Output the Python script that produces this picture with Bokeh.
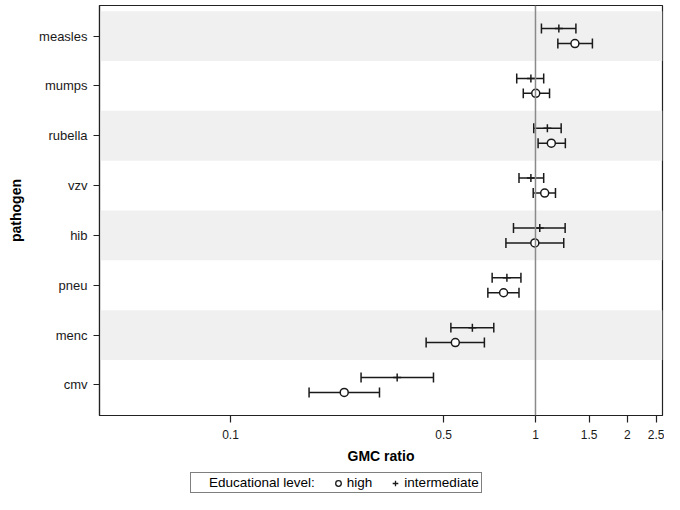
from bokeh.plotting import figure
from bokeh.layouts import column
from bokeh.models import (ColumnDataSource, FixedTicker, Span, Legend, LegendItem, Range1d)
from bokeh.embed import file_html
from bokeh.resources import INLINE

# ---- data ----
pathogens = ["measles", "mumps", "rubella", "vzv", "hib", "pneu", "menc", "cmv"]
high_est = [1.347, 1.002, 1.127, 1.072, 0.995, 0.786, 0.546, 0.236]
high_lo = [1.184, 0.912, 1.020, 0.983, 0.800, 0.698, 0.438, 0.181]
high_hi = [1.537, 1.112, 1.253, 1.163, 1.238, 0.883, 0.680, 0.308]
int_est = [1.193, 0.966, 1.094, 0.966, 1.033, 0.806, 0.621, 0.352]
int_lo = [1.046, 0.868, 0.987, 0.883, 0.847, 0.721, 0.528, 0.268]
int_hi = [1.357, 1.064, 1.214, 1.064, 1.251, 0.896, 0.730, 0.463]
x_ticks = [0.1, 0.5, 1, 1.5, 2, 2.5]
x_tick_labels = ["0.1", "0.5", "1", "1.5", "2", "2.5"]
legend_title = "Educational level:"
group_labels = ["high", "intermediate"]

FONT = "Liberation Sans"
INK = "#1a1a1a"
n = len(pathogens)
pos = [n - i for i in range(n)]
off = 0.15
cap = 0.1

x_lo, x_hi = 0.0372, 2.609

p = figure(width=664, height=468, x_axis_type="log",
           x_range=Range1d(x_lo, x_hi), y_range=Range1d(0.387, n + 0.613),
           output_backend="svg", toolbar_location=None,
           min_border_left=99, min_border_right=2, min_border_top=5, min_border_bottom=53)
p.xgrid.visible = False
p.ygrid.visible = False
p.outline_line_color = "#222222"
p.outline_line_width = 1.2
p.background_fill_color = "white"

# alternating bands
band_y = [pos[i] for i in range(0, n, 2)]
p.hbar(y=band_y, height=1, left=x_lo, right=x_hi, fill_color="#f0f0f0",
       line_color=None, level="underlay")

def draw_series(est, lo, hi, dy):
    ys = [y + dy for y in pos]
    src = ColumnDataSource(dict(est=est, lo=lo, hi=hi, y=ys,
                                y0=[y - cap for y in ys], y1=[y + cap for y in ys]))
    p.segment(x0="lo", y0="y", x1="hi", y1="y", source=src, line_color=INK, line_width=1.5)
    p.segment(x0="lo", y0="y0", x1="lo", y1="y1", source=src, line_color=INK, line_width=1.5)
    p.segment(x0="hi", y0="y0", x1="hi", y1="y1", source=src, line_color=INK, line_width=1.5)
    return src

src_int = draw_series(int_est, int_lo, int_hi, off)
src_high = draw_series(high_est, high_lo, high_hi, -off)
p.scatter(x="est", y="y", source=src_int, marker="cross", size=8,
          line_color=INK, line_width=1.5)
p.scatter(x="est", y="y", source=src_high, marker="circle", size=8,
          line_color=INK, line_width=1.5, fill_color="white")

p.add_layout(Span(location=1, dimension="height", line_color="#8a8a8a", line_width=1.5))

# axes
xa = p.xaxis[0]
xa.ticker = FixedTicker(ticks=x_ticks, minor_ticks=[])
xa.major_label_overrides = {t: l for t, l in zip(x_ticks, x_tick_labels)}
xa.axis_label = "GMC ratio"
ya = p.yaxis[0]
ya.ticker = FixedTicker(ticks=pos, minor_ticks=[])
ya.major_label_overrides = {y: name for y, name in zip(pos, pathogens)}
ya.axis_label = "pathogen"
for ax in (xa, ya):
    ax.axis_line_color = "#222222"
    ax.axis_line_width = 1.2
    ax.major_tick_line_color = "#222222"
    ax.major_tick_line_width = 1.2
    ax.major_tick_in = 0
    ax.major_tick_out = 7
    ax.minor_tick_line_color = None
    ax.major_label_text_font = FONT
    ax.major_label_text_color = INK
    ax.axis_label_text_font = FONT
    ax.axis_label_text_font_style = "bold"
    ax.axis_label_text_font_size = "14px"
    ax.axis_label_text_color = "#000000"
xa.major_label_text_font_size = "12px"
ya.major_label_text_font_size = "13px"
xa.major_label_standoff = 7
xa.axis_label_standoff = 6
ya.major_tick_out = 6
ya.major_label_standoff = 6
ya.axis_label_standoff = 12

# legend strip (separate small figure below the plot)
lg = figure(width=664, height=26, output_backend="svg", toolbar_location=None,
            x_axis_location=None, y_axis_location=None,
            x_range=Range1d(0, 1), y_range=Range1d(0, 1),
            min_border=0, outline_line_color=None)
lg.xgrid.visible = False
lg.ygrid.visible = False
d_title = lg.scatter(x=[-5], y=[-5], marker="circle", size=1, alpha=0)
d_high = lg.scatter(x=[-5], y=[-5], marker="circle", size=6, line_color=INK,
                    line_width=1.3, fill_color="white")
d_int = lg.scatter(x=[-5], y=[-5], marker="cross", size=7, line_color=INK, line_width=1.3)
legend = Legend(items=[LegendItem(label=legend_title, renderers=[d_title]),
                       LegendItem(label=group_labels[0], renderers=[d_high]),
                       LegendItem(label=group_labels[1], renderers=[d_int])],
                orientation="horizontal", location=(91, 1),
                label_text_font=FONT, label_text_font_size="13.5px",
                label_text_color="#000000",
                glyph_width=14, glyph_height=14, label_standoff=2, label_height=12,
                spacing=16, padding=2, margin=0,
                border_line_color="#000000", border_line_width=1,
                background_fill_color="white", background_fill_alpha=1)
lg.add_layout(legend, "center")

layout = column(p, lg, spacing=0)
open("out.html", "w").write(file_html(layout, INLINE))
